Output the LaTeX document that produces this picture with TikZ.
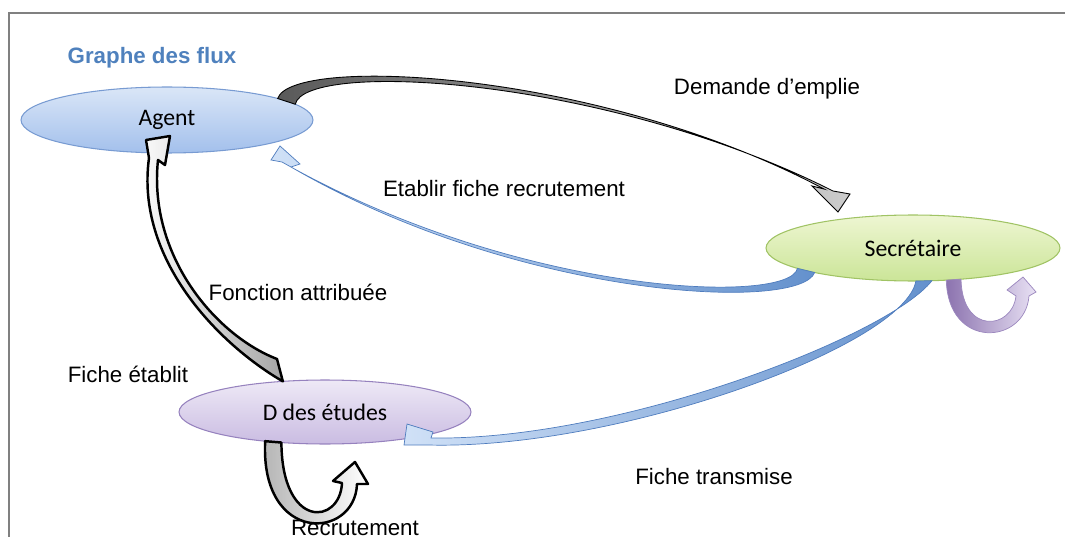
\documentclass[tikz,border=0pt]{standalone}
\usepackage{fontspec}
\setmainfont{Liberation Sans}
\newfontfamily\calibri{Carlito}
\usetikzlibrary{shapes.geometric}
\definecolor{framegray}{RGB}{128,128,128}
\definecolor{titleblue}{RGB}{79,129,189}
\definecolor{agenttop}{RGB}{218,230,247}
\definecolor{agentbot}{RGB}{163,192,236}
\definecolor{agentline}{RGB}{120,155,210}
\definecolor{secrtop}{RGB}{238,246,210}
\definecolor{secrbot}{RGB}{203,229,152}
\definecolor{secrline}{RGB}{160,195,100}
\definecolor{ddetop}{RGB}{238,233,246}
\definecolor{ddebot}{RGB}{202,188,226}
\definecolor{ddeline}{RGB}{150,130,190}
\definecolor{flowlight}{RGB}{208,225,247}
\definecolor{flowdark}{RGB}{100,145,205}
\definecolor{flowline}{RGB}{80,125,190}
\definecolor{loopdark}{RGB}{140,115,175}
\definecolor{looplight}{RGB}{232,225,244}
\definecolor{loopline}{RGB}{155,135,190}
\begin{document}
\begin{tikzpicture}[x=0.02cm, y=-0.02cm,
    etat/.style={ellipse, inner sep=0pt, outer sep=0pt, line width=0.6pt,
      minimum width=5.84cm, minimum height=1.32cm,
      font=\calibri\fontsize{13.5}{16}\selectfont},
    lbl/.style={anchor=base, inner sep=0pt, font=\fontsize{12.7}{15}\selectfont},
    flux/.style={draw=flowline, line width=0.4pt, left color=flowlight, right color=flowdark},
    boucle/.style={draw=loopline, line width=0.4pt, left color=loopdark, right color=looplight},
    noir/.style={draw=black, line width=1.4pt, line join=round}]
  \useasboundingbox (0,0) rectangle (1065,537);
  \draw[framegray, line width=1.2pt] (9,537) -- (9,13) -- (1065,13);

  \node[lbl, font=\bfseries\fontsize{12.7}{15}\selectfont, text=titleblue] (titre) at (152,64) {Graphe des flux};
  \node[lbl] (demande) at (767,94) {Demande d’emplie};
  \node[lbl] (etablir) at (504,196) {Etablir fiche recrutement};
  \node[lbl] (fonction) at (298,300) {Fonction attribuée};
  \node[lbl] (fetablit) at (128,382) {Fiche établit};
  \node[lbl] (transmise) at (714,484) {Fiche transmise};
  \node[lbl] (recrut) at (355,535) {Recrutement};

  \node[etat, draw=agentline, top color=agenttop, bottom color=agentbot] (agent) at (167,120) {Agent};
  \node[etat, draw=secrline, top color=secrtop, bottom color=secrbot, minimum width=5.88cm] (secr) at (913,248) {Secrétaire};
  \node[etat, draw=ddeline, top color=ddetop, bottom color=ddebot, minimum height=1.28cm] (dde) at (325,412) {D des études};

  \path[draw=black, line width=0.5pt, left color=black!65, right color=black!20]
    (agent.11) .. controls (292,55) and (600,70) .. (824,189) -- (812,186) -- (838,212)
    -- (850,194) -- (833,191) .. controls (605,76) and (305,60) .. (agent.7) -- cycle;
  \path[flux] (secr.194) .. controls (800,312) and (520,300) .. (291,167) -- (300,164)
    -- (280,146) -- (271,160) -- (282,162) .. controls (520,297) and (790,305) .. (secr.190) -- cycle;
  \path[flux] (secr.275) .. controls (905,345) and (620,450) .. (428,445) -- (404,445)
    -- (407,424) -- (433,432) -- (431,438) .. controls (620,441) and (890,335) .. (secr.300) -- cycle;
  \path[boucle] (secr.316) .. controls (948,350) and (1025,345) .. (1029,296) -- (1036,292)
    -- (1023,277) -- (1007,290) -- (1016,296) .. controls (1012,330) and (962,335) .. (secr.327) -- cycle;
  \path[noir, left color=black!30, right color=white]
    (dde.206) .. controls (260,545) and (355,540) .. (357,484) -- (368,484) -- (355,462)
    -- (333,481) -- (342,483) .. controls (340,525) and (282,530) .. (dde.215) -- cycle;
  \path[noir, left color=white, middle color=white, right color=black!35]
    (dde.144) .. controls (220,345) and (135,260) .. (149,158) -- (146,140) -- (170,136)
    -- (165,165) -- (158,160) .. controls (148,255) and (215,335) .. (277,359) -- cycle;
\end{tikzpicture}
\end{document}
